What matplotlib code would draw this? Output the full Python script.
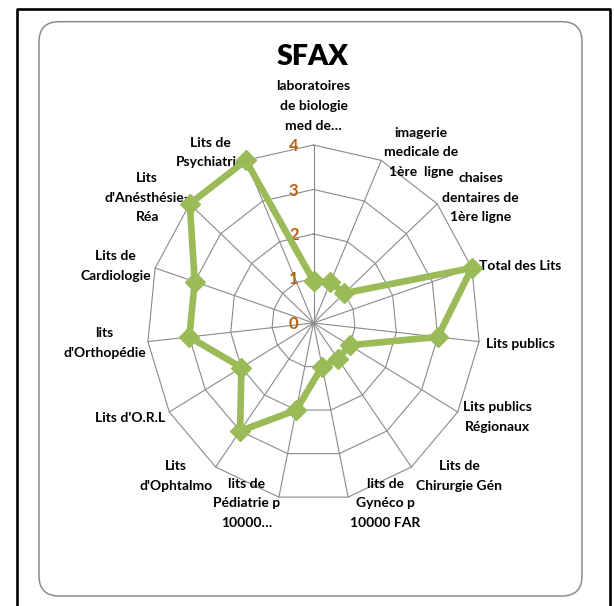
import numpy as np
import matplotlib.pyplot as plt
from matplotlib.patches import FancyBboxPatch
from matplotlib.lines import Line2D

categories = [
    "laboratoires\nde biologie\nmed de\u2026",
    "imagerie\nmedicale de\n1\u00e8re  ligne",
    "chaises\ndentaires de\n1\u00e8re ligne",
    "Total des Lits",
    "Lits publics",
    "Lits publics\nR\u00e9gionaux",
    "Lits de\nChirurgie G\u00e9n",
    "lits de\nGyn\u00e9co p\n10000 FAR",
    "lits de\nP\u00e9diatrie p\n10000\u2026",
    "Lits\nd'Ophtalmo",
    "Lits d'O.R.L",
    "lits\nd'Orthop\u00e9die",
    "Lits de\nCardiologie",
    "Lits\nd'An\u00e9sth\u00e9sie-\nR\u00e9a",
    "Lits de\nPsychiatrie",
]
values = [0.95, 1, 1, 4, 3, 1, 1, 1, 2, 3, 2, 3, 3, 4, 4]
ticks = [0, 1, 2, 3, 4]

# label placement: (ha, dx px, dy px) relative to outer vertex, dy downward
label_pos = [
    ("center", 0, -39), ("left", 3, -8), ("left", 5, -6), ("left", 7, -2),
    ("left", 7, 2), ("left", 5, 5), ("left", 5, 9), ("left", 2, 6),
    ("right", 1, 6), ("right", -3, 9), ("right", -4, 5.5), ("right", -2, 1.5),
    ("right", -4, -2), ("right", 0, -6), ("right", -1, -8),
]

plt.rcParams['font.family'] = ['Lato', 'DejaVu Sans']
W, H = 614, 606
fig = plt.figure(figsize=(W / 100, H / 100), dpi=100)

# frames
fig.add_artist(Line2D([17 / W, 17 / W, 609.5 / W, 609.5 / W],
                      [0, 1 - 9 / H, 1 - 9 / H, 0], color='black', lw=1.9,
                      transform=fig.transFigure))
fig.add_artist(FancyBboxPatch((39 / W, 1 - 596 / H), (582 - 39) / W, (596 - 21.7) / H,
                              boxstyle="round,pad=0,rounding_size=0.033",
                              transform=fig.transFigure, fc='none', ec='#8c8c8c', lw=1.1))

ax = fig.add_axes([147 / W, 1 - 501 / H, 333 / W, 356 / H])
ax.set_xlim(-4, 4)
ax.set_ylim(-4, 4)
ax.axis('off')

n = len(categories)
ang = np.arange(n) * 2 * np.pi / n
sx, cy = np.sin(ang), np.cos(ang)
sx_c, cy_c = np.append(sx, sx[0]), np.append(cy, cy[0])
grid_c = '#8a8a8a'
for r in ticks[1:]:
    ax.plot(r * sx_c, r * cy_c, color=grid_c, lw=0.8, clip_on=False)
for i in range(n):
    ax.plot([0, ticks[-1] * sx[i]], [0, ticks[-1] * cy[i]], color=grid_c, lw=0.8,
            clip_on=False)

v = np.append(values, values[0])
ax.plot(v * sx_c, v * cy_c, color='#9BBB59', lw=4.8, marker='D', ms=10,
        mec='#9BBB59', clip_on=False, zorder=5)

for t in ticks:
    ax.annotate(str(t), (0, t), xytext=(-15, -1), textcoords='offset pixels',
                ha='right', va='center', fontsize=12, fontweight='bold',
                color='#B8600E')

for i, lab in enumerate(categories):
    ha, dx, dy = label_pos[i]
    ax.annotate(lab, (ticks[-1] * sx[i], ticks[-1] * cy[i]), xytext=(dx, -dy),
                textcoords='offset pixels', ha=ha, va='center', ma='center',
                fontsize=10, fontweight='bold', linespacing=1.75, color='black',
                annotation_clip=False)

fig.text(312 / W, 1 - 57 / H, "SFAX", ha='center', va='center', fontsize=20.5,
         fontweight='heavy')

fig.savefig('out.png', dpi=100)
